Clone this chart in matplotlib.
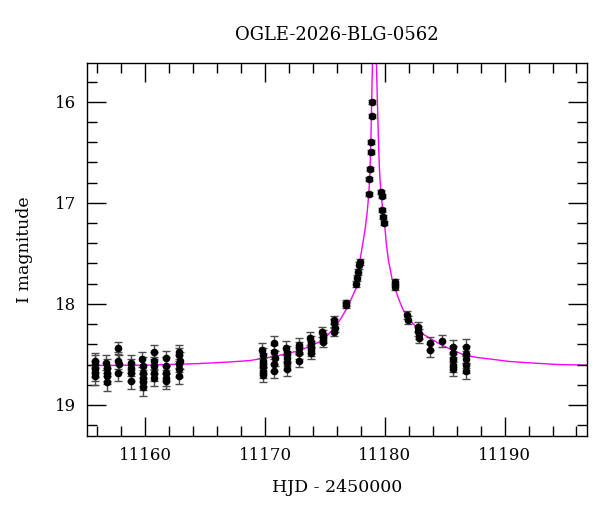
import matplotlib
matplotlib.use("Agg")
import matplotlib.pyplot as plt
from matplotlib.ticker import MultipleLocator

# OGLE photometry (HJD - 2450000, I mag, error)
hjd = [
    # baseline nights
    11155.78, 11155.80, 11155.82, 11155.79, 11155.81,
    11156.76, 11156.78, 11156.80, 11156.77, 11156.79,
    11157.73, 11157.75, 11157.77, 11157.76,
    11158.79, 11158.81, 11158.83, 11158.80,
    11159.76, 11159.78, 11159.80, 11159.77, 11159.79, 11159.81,
    11160.73, 11160.75, 11160.77, 11160.74, 11160.76,
    11161.71, 11161.73, 11161.75, 11161.72, 11161.74,
    11162.82, 11162.84, 11162.86, 11162.83, 11162.85, 11162.84,
    # rising wing
    11169.78, 11169.80, 11169.82, 11169.79, 11169.81, 11169.80,
    11170.75, 11170.77, 11170.79, 11170.76, 11170.78,
    11171.78, 11171.80, 11171.82, 11171.79, 11171.81,
    11172.83, 11172.85, 11172.87, 11172.84,
    11173.79, 11173.81, 11173.83, 11173.80, 11173.82,
    11174.79, 11174.81, 11174.83, 11174.80,
    11175.76, 11175.78, 11175.80, 11175.79,
    11176.74, 11176.76,
    11177.63, 11177.71, 11177.80, 11177.88, 11177.96,
    # peak night
    11178.67, 11178.70, 11178.78, 11178.81, 11178.84, 11178.90, 11178.95,
    11179.67, 11179.73, 11179.78, 11179.87, 11179.92,
    # falling wing
    11180.84, 11180.88,
    11181.88, 11181.91,
    11182.76, 11182.79, 11182.82, 11182.85,
    11183.75, 11183.77,
    11184.79,
    11185.69, 11185.71, 11185.73, 11185.70, 11185.72,
    11186.75, 11186.77, 11186.79, 11186.76, 11186.78,
]
imag = [
    18.56, 18.59, 18.64, 18.68, 18.71,
    18.58, 18.63, 18.68, 18.71, 18.77,
    18.44, 18.56, 18.59, 18.68,
    18.58, 18.63, 18.68, 18.76,
    18.55, 18.61, 18.68, 18.73, 18.77, 18.82,
    18.48, 18.56, 18.61, 18.68, 18.73,
    18.54, 18.61, 18.68, 18.73, 18.76,
    18.48, 18.51, 18.56, 18.59, 18.64, 18.71,
    18.46, 18.51, 18.56, 18.61, 18.66, 18.70,
    18.39, 18.48, 18.54, 18.59, 18.66,
    18.44, 18.49, 18.54, 18.58, 18.64,
    18.41, 18.44, 18.49, 18.56,
    18.34, 18.38, 18.43, 18.46, 18.49,
    18.28, 18.31, 18.34, 18.38,
    18.16, 18.19, 18.24, 18.28,
    17.99, 18.01,
    17.80, 17.74, 17.68, 17.62, 17.59,
    16.91, 16.76, 16.67, 16.50, 16.40, 16.14, 16.00,
    16.89, 16.93, 17.07, 17.14, 17.20,
    17.78, 17.83,
    18.11, 18.16,
    18.23, 18.27, 18.30, 18.34,
    18.39, 18.46,
    18.37,
    18.43, 18.49, 18.55, 18.60, 18.64,
    18.43, 18.50, 18.55, 18.60, 18.66,
]
ierr = [
    0.07, 0.08, 0.08, 0.08, 0.09,
    0.07, 0.08, 0.08, 0.08, 0.09,
    0.06, 0.08, 0.08, 0.08,
    0.07, 0.08, 0.08, 0.08,
    0.07, 0.08, 0.08, 0.08, 0.08, 0.09,
    0.07, 0.08, 0.08, 0.08, 0.08,
    0.07, 0.08, 0.08, 0.08, 0.08,
    0.07, 0.07, 0.08, 0.08, 0.08, 0.08,
    0.075, 0.07, 0.07, 0.07, 0.07, 0.075,
    0.07, 0.07, 0.07, 0.07, 0.07,
    0.07, 0.07, 0.07, 0.07, 0.07,
    0.07, 0.06, 0.06, 0.06,
    0.065, 0.06, 0.06, 0.06, 0.06,
    0.05, 0.05, 0.05, 0.05,
    0.04, 0.04, 0.04, 0.04,
    0.03, 0.03,
    0.03, 0.03, 0.03, 0.03, 0.03,
    0.02, 0.02, 0.02, 0.02, 0.02, 0.02, 0.02,
    0.02, 0.02, 0.02, 0.02, 0.02,
    0.03, 0.03,
    0.04, 0.04,
    0.05, 0.05, 0.05, 0.05,
    0.065, 0.065,
    0.06,
    0.07, 0.07, 0.07, 0.07, 0.07,
    0.08, 0.08, 0.08, 0.08, 0.08,
]

# model curve, sampled off the magenta line
model_hjd = [
    11155.15, 11160.39, 11164.57, 11167.00, 11168.74, 11170.83, 11171.90,
    11172.92, 11173.90, 11174.81, 11175.78, 11176.30, 11176.75, 11177.09,
    11177.35, 11177.65, 11177.80, 11177.92, 11178.12, 11178.34, 11178.52,
    11178.67, 11178.76, 11178.84, 11178.90, 11178.97, 11179.05, 11179.13,
    11179.21, 11179.29, 11179.38, 11179.46, 11179.55, 11179.67, 11179.80,
    11179.95, 11180.12, 11180.30, 11180.60, 11180.84, 11181.15, 11181.49,
    11182.00, 11182.65, 11183.20, 11183.76, 11184.79, 11185.71, 11186.71,
    11187.70, 11188.77, 11190.44, 11192.36, 11194.50, 11196.85,
]
model_mag = [
    18.61, 18.605, 18.59, 18.575, 18.56, 18.52, 18.49,
    18.46, 18.41, 18.36, 18.24, 18.15, 18.06, 17.98,
    17.91, 17.83, 17.70, 17.57, 17.43, 17.27, 17.10,
    16.90, 16.67, 16.35, 16.00, 15.60, 15.00, 14.50,
    15.00, 15.60, 16.00, 16.35, 16.67, 16.90, 17.04,
    17.17, 17.40, 17.57, 17.75, 17.84, 17.95, 18.05,
    18.15, 18.23, 18.30, 18.34, 18.41, 18.46, 18.51,
    18.53, 18.545, 18.57, 18.585, 18.60, 18.605,
]

plt.rcParams["font.family"] = ["DejaVu Serif"]

fig = plt.figure(figsize=(6, 5.12), dpi=100)
ax = fig.add_axes([0.1453, 0.1484, 0.8325, 0.7295])

ax.plot(model_hjd, model_mag, color="#ff00ff", lw=1.0, zorder=1)
ax.errorbar(hjd, imag, yerr=ierr, fmt="o", color="black", ms=4.5,
            ecolor="0.3", elinewidth=1.0, capsize=3, capthick=1.0, zorder=2)

ax.set_xlim(11155.15, 11196.85)
ax.set_ylim(19.307, 15.612)

ax.xaxis.set_major_locator(MultipleLocator(10))
ax.xaxis.set_minor_locator(MultipleLocator(2))
ax.yaxis.set_major_locator(MultipleLocator(1))
ax.yaxis.set_minor_locator(MultipleLocator(0.2))
ax.tick_params(which="both", direction="in", top=True, right=True,
               labelsize=12, width=1.0)
ax.tick_params(which="major", length=13.5, pad=8)
ax.tick_params(which="minor", length=7.5)
for s in ax.spines.values():
    s.set_linewidth(1.0)

ax.set_title("OGLE-2026-BLG-0562", fontsize=13, pad=16)
ax.set_xlabel("HJD - 2450000", fontsize=12.5, labelpad=11)
ax.set_ylabel("I magnitude", fontsize=12.5, labelpad=16)

fig.savefig("out.png", dpi=100)
